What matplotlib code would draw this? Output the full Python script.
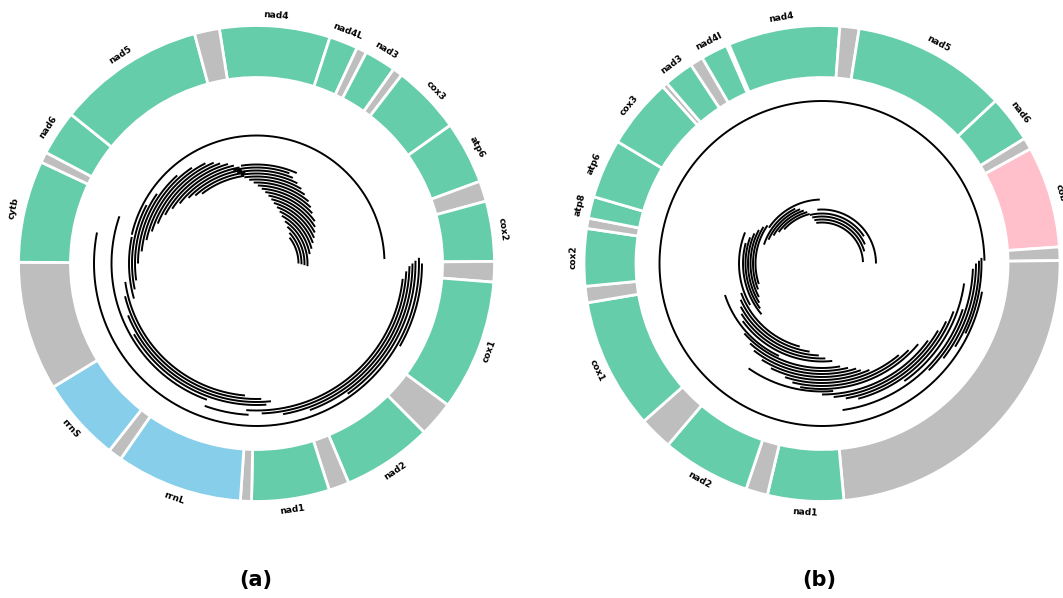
import matplotlib.pyplot as plt
import numpy as np

# (a) 14.4 kb mitogenome, position 0 at the top, running clockwise
a_len = 14400
a_name = ['nad4', 'nad4L', '', 'nad3', '', 'cox3', 'atp6', '', 'cox2', '', 'cox1', '', 'nad2', '',
          'nad1', '', 'rrnL', '', 'rrnS', '', 'cytb', '', 'nad6', 'nad5', '']
a_start = [14040, 720, 1000, 1100, 1408, 1504, 2180, 2792, 2992, 3580, 3780, 5060, 5408, 6288,
           6488, 7248, 7356, 8592, 8728, 9548, 10812, 11808, 11912, 12352, 13796]
a_end = [720, 1000, 1100, 1408, 1504, 2180, 2792, 2992, 3580, 3780, 5060, 5408, 6288, 6488,
         7248, 7356, 8592, 8728, 9548, 10812, 11808, 11912, 12352, 13796, 14040]
a_kind = ['cds', 'cds', 'other', 'cds', 'other', 'cds', 'cds', 'other', 'cds', 'other', 'cds', 'other',
          'cds', 'other', 'cds', 'other', 'rrna', 'other', 'rrna', 'other', 'cds', 'other', 'cds', 'cds', 'other']

# reads mapped on (a): start / end (bp) and stacking level
a_read_start = [2080, 1880, 1600, 1360, 1120, 960, 800, 640, 520, 400, 280, 160, 40, 14320, 14200,
                14080, 14000, 13920, 13840, 14040,
                12880, 12720, 12560, 12320, 12120, 11920, 11680, 11480, 11280, 11040, 10800, 10480,
                10320, 10160, 11320,
                7400, 7120, 6960, 7040, 8000, 3840, 3720, 7320, 3640, 3600, 3560, 3520, 3600]
a_read_end = [3600, 3640, 3680, 3720, 3200, 3000, 2800, 2640, 2480, 2320, 2160, 1920, 1760, 1600, 1400,
              1240, 1080, 920, 800, 960,
              14080, 14120, 14040, 14000, 13880, 13760, 13600, 13480, 13320, 13040, 12720, 12200,
              11920, 11280, 3520,
              10480, 10240, 9920, 9600, 11560, 7360, 7120, 8000, 6800, 6400, 5800, 11240, 4800]
a_read_level = [42, 45, 48, 51, 54, 57, 60, 63, 66, 69, 72, 75, 78, 81, 84, 87, 90, 93, 96, 99,
                88.5, 91.5, 94.5, 97.5, 100.5, 103.5, 106.5, 109.5, 112.5, 115.5, 118.5, 121.5,
                124.5, 127.5, 128,
                132.5, 135.5, 138.5, 141.5, 145, 147, 150, 151.5, 153, 156, 159, 162.5, 165.5]

# (b) 16.2 kb mitogenome
b_len = 16200
b_name = ['nad4', '', 'nad5', 'nad6', '', 'cob', '', '', 'nad1', '', 'nad2', '', 'cox1', '', 'cox2', '',
          'atp8', 'atp6', 'cox3', '', 'nad3', '', 'nad4l']
b_start = [15165, 194, 405, 2110, 2624, 2754, 3870, 4018, 7862, 8698, 8937, 9914, 10282, 11722,
           11902, 12532, 12645, 12884, 13536, 14310, 14368, 14697, 14841]
b_end = [194, 405, 2110, 2624, 2754, 3870, 4018, 7862, 8698, 8937, 9914, 10282, 11722, 11902,
         12532, 12645, 12884, 13536, 14310, 14368, 14697, 14841, 15134]
b_kind = ['cds', 'other', 'cds', 'cds', 'other', 'cob', 'other', 'other', 'cds', 'other', 'cds', 'other',
          'cds', 'other', 'cds', 'other', 'cds', 'cds', 'cds', 'other', 'cds', 'other', 'cds']

b_read_start = [15840, 15750, 15660, 15570, 15975,
                14040, 13770, 13500, 13230, 12960, 13680,
                11340, 11160, 10890, 10710, 10530, 10350, 10800,
                8775, 8460, 8190, 8010, 7830, 9225, 7650, 7470, 7290, 7200, 7020, 7875,
                6300, 6075, 5850, 5670, 5400, 5175, 4950, 4860,
                4410, 4140, 4050, 4005, 3960, 4500]
b_read_end = [3960, 3330, 2970, 2565, 4050,
              15570, 15480, 15345, 15210, 15030, 16110,
              13725, 13590, 13410, 13230, 13050, 12825, 13140,
              11250, 11070, 10890, 10710, 10530, 11340, 10260, 9990, 9810, 9540, 9270, 9675,
              8910, 8730, 8550, 8100, 7875, 7650, 7425, 7740,
              6525, 6075, 5760, 5490, 5220, 4005]
b_read_level = [41, 44, 47, 50, 54,
                51, 53.5, 56, 58.5, 61, 64,
                66.5, 69, 71.5, 74, 76.5, 79, 83,
                86, 89, 92, 95, 98, 102, 104.5, 107.5, 110.5, 113.5, 116.5, 128,
                119.5, 122.5, 125.5, 131, 134, 137, 140, 148,
                143.5, 151, 154, 157, 159.5, 162.5]

colors = {'cds': '#66cdaa', 'rrna': '#87ceeb', 'other': '#bebebe', 'cob': '#ffc0cb'}
RING_IN, RING_OUT, LABEL_R = 186, 238, 249


def draw_map(ax, length, names, starts, ends, kinds, r_start, r_end, r_level):
    ax.set_theta_zero_location('N')
    ax.set_theta_direction(-1)
    ax.set_ylim(0, 240)
    ax.axis('off')
    for name, s, e, k in zip(names, starts, ends, kinds):
        if e < s:
            e += length
        t0, t1 = 2 * np.pi * s / length, 2 * np.pi * e / length
        mid = (t0 + t1) / 2
        ax.bar(mid, RING_OUT - RING_IN, width=t1 - t0, bottom=RING_IN, color=colors[k],
               edgecolor='white', linewidth=2)
        if name:
            deg = np.degrees(mid) % 360
            rot = 180 - deg if 90 < deg < 270 else -deg
            ax.text(mid, LABEL_R, name, rotation=rot, rotation_mode='anchor', ha='center',
                    va='center', fontsize=6.5, fontweight='bold')
    # reads drawn as arcs at their own level
    for s, e, lv in zip(r_start, r_end, r_level):
        if e < s:
            e += length
        t = np.linspace(s, e, 200) / length * 2 * np.pi
        ax.plot(t, np.full_like(t, lv), color='black', lw=1.4, solid_capstyle='butt')


W, H = 1063, 598
fig = plt.figure(figsize=(W / 100, H / 100), dpi=100)
R = 240
ax_a = fig.add_axes([(256.5 - R) / W, (H - 263.5 - R) / H, 2 * R / W, 2 * R / H], projection='polar')
ax_b = fig.add_axes([(822 - R) / W, (H - 263.5 - R) / H, 2 * R / W, 2 * R / H], projection='polar')

draw_map(ax_a, a_len, a_name, a_start, a_end, a_kind, a_read_start, a_read_end, a_read_level)
draw_map(ax_b, b_len, b_name, b_start, b_end, b_kind, b_read_start, b_read_end, b_read_level)

fig.text(256 / W, 1 - 580 / H, '(a)', ha='center', va='center', fontsize=15, fontweight='bold')
fig.text(819 / W, 1 - 580 / H, '(b)', ha='center', va='center', fontsize=15, fontweight='bold')

fig.savefig('out.png', dpi=100)
